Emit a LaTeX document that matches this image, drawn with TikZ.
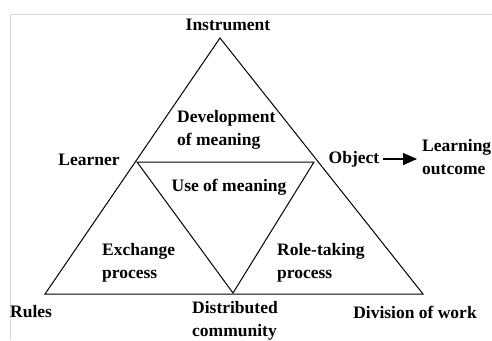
\documentclass[tikz,border=0pt]{standalone}
\usepackage{fontspec}
\setmainfont{Liberation Serif}
\usetikzlibrary{arrows.meta}
\begin{document}
\begin{tikzpicture}[x=1pt,y=-1pt,
		lbl/.style={font=\fontsize{17.5}{23}\selectfont\bfseries, inner sep=0pt, align=center},
		edge/.style={line width=1pt}]
		\useasboundingbox (0,0) rectangle (492,340);
		\draw[black!15, line width=1.5pt] (10.5,340) -- (10.5,14.5) -- (492,14.5);
		
		\coordinate (top) at (220,38);
		\coordinate (bl) at (45,294);
		\coordinate (br) at (423,294);
		\coordinate (il) at (137,162);
		\coordinate (ir) at (314,162);
		\coordinate (ib) at (233,293);
		\draw[edge] (top) -- (br) -- (bl) -- cycle;
		\draw[edge] (il) -- (ir) -- (ib) -- cycle;
		
		\node[lbl] (instr) at (228,25) {Instrument};
		\node[lbl, align=left, anchor=west] (devel) at (177,130) {Development\\of meaning};
		\node[lbl] (learner) at (89,160) {Learner};
		\node[lbl] (object) at (354,159) {Object};
		\node[lbl, align=left, anchor=west] (outcome) at (422,157) {Learning\\outcome};
		\node[lbl] (usem) at (229,187) {Use of meaning};
		\node[lbl, align=left, anchor=west] (exch) at (102,263) {Exchange\\process};
		\node[lbl, align=left, anchor=west] (role) at (277,263) {Role-taking\\process};
		\node[lbl, anchor=west] (rules) at (10,312) {Rules};
		\node[lbl, align=left] (distr) at (235,321) {Distributed\\community};
		\node[lbl] (division) at (415,312) {Division of work};
		
		\draw[-{Triangle[length=14pt,width=12pt]}, line width=1.4pt, shorten <=4pt, shorten >=5pt] (object) -- (outcome.west |- object);
	\end{tikzpicture}
\end{document}
